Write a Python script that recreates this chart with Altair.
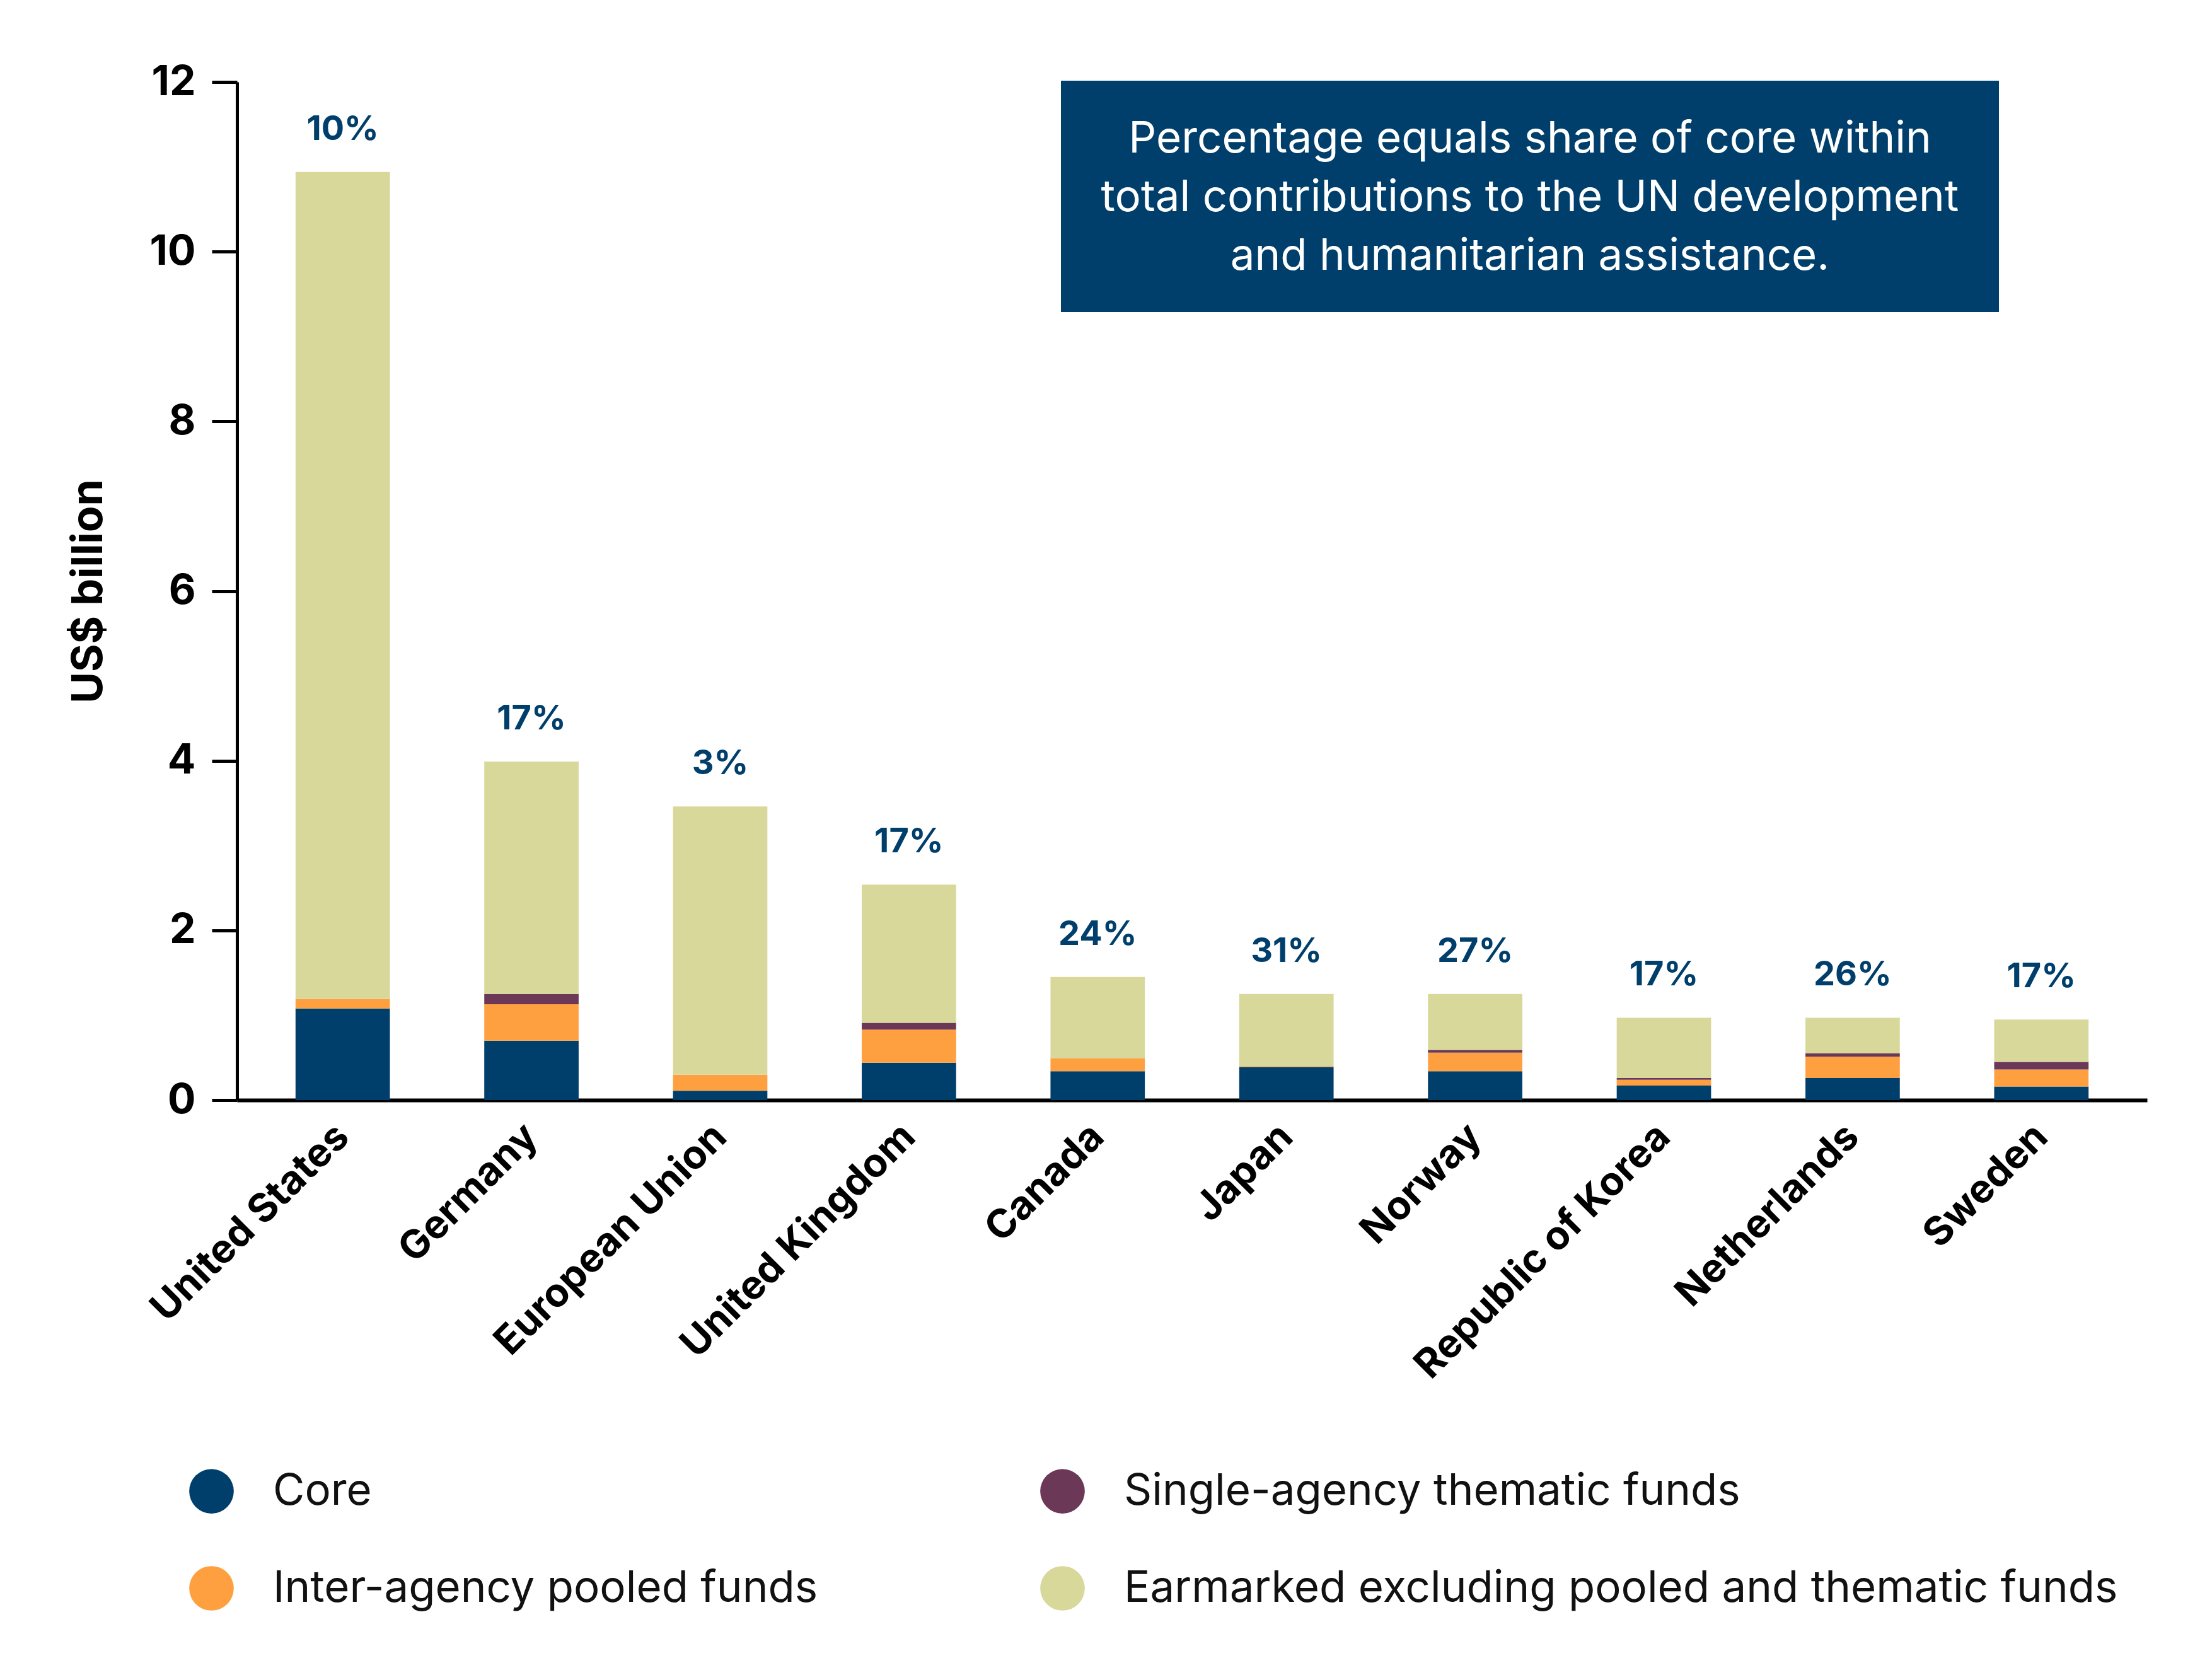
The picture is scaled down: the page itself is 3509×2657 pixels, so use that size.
import altair as alt
import pandas as pd

countries = ["United States", "Germany", "European Union", "United Kingdom", "Canada",
             "Japan", "Norway", "Republic of Korea", "Netherlands", "Sweden"]
core = [1.08, 0.70, 0.11, 0.44, 0.34, 0.39, 0.34, 0.17, 0.26, 0.16]
inter_agency = [0.11, 0.43, 0.19, 0.39, 0.15, 0.01, 0.22, 0.07, 0.25, 0.20]
single_agency = [0.00, 0.12, 0.00, 0.08, 0.00, 0.00, 0.03, 0.02, 0.04, 0.09]
earmarked = [9.75, 2.74, 3.16, 1.63, 0.96, 0.85, 0.66, 0.71, 0.42, 0.50]
totals = [10.94, 3.99, 3.46, 2.54, 1.45, 1.25, 1.25, 0.97, 0.97, 0.95]
core_share = ["10%", "17%", "3%", "17%", "24%", "31%", "27%", "17%", "26%", "17%"]

categories = ["Core", "Inter-agency pooled funds", "Single-agency thematic funds",
              "Earmarked excluding pooled and thematic funds"]
colors = ["#003F6B", "#FFA040", "#6B3858", "#D8D89B"]

series = [core, inter_agency, single_agency, earmarked]

rows = []
for rank, (cat, vals) in enumerate(zip(categories, series)):
    for c, v in zip(countries, vals):
        rows.append({"country": c, "type": cat, "value": v, "rank": rank})
df = pd.DataFrame(rows)

lab = pd.DataFrame({"country": countries, "total": totals, "share": core_share})

FONT = "Inter"

x_enc = alt.X("country:N", sort=countries, title=None,
              scale=alt.Scale(paddingInner=0.5, paddingOuter=0.31),
              axis=alt.Axis(labelAngle=-45, labelAlign="right", labelBaseline="middle",
                            labelFontSize=63, labelFont=FONT, labelFontWeight="bold",
                            labelColor="#000000", labelPadding=48, ticks=False,
                            domainColor="#000000", domainWidth=6, labelLimit=1000))

bars = alt.Chart(df).mark_bar(strokeWidth=0).encode(
    x=x_enc,
    y=alt.Y("value:Q", stack="zero",
            scale=alt.Scale(domain=[0, 12], nice=False),
            axis=alt.Axis(values=[0, 2, 4, 6, 8, 10, 12], format="d", grid=False,
                          title="US$ billion", titleFontSize=68, titleFont=FONT,
                          titleFontWeight="bold", titleColor="#000000", titlePadding=62,
                          labelFontSize=66, labelFont=FONT, labelFontWeight="bold",
                          labelColor="#000000", labelPadding=26, tickSize=40,
                          tickWidth=5, tickColor="#000000", domainColor="#000000",
                          domainWidth=5)),
    color=alt.Color("type:N", scale=alt.Scale(domain=categories, range=colors),
                    legend=alt.Legend(title=None, orient="none", legendX=-76, legendY=2200,
                                      columns=2, columnPadding=352, rowPadding=83,
                                      symbolType="circle", symbolSize=5000,
                                      symbolStrokeWidth=0, symbolOpacity=1,
                                      labelFontSize=69, labelFont=FONT,
                                      labelColor="#111111", labelOffset=62,
                                      labelLimit=3000, padding=0)),
    order=alt.Order("rank:Q", sort="ascending"),
)

pct = alt.Chart(lab).mark_text(baseline="bottom", dy=-40, fontSize=54, font=FONT,
                               fontWeight="bold", color="#003F6B").encode(
    x=alt.X("country:N", sort=countries),
    y=alt.Y("total:Q"),
    text="share:N",
)

note = pd.DataFrame({"t": [["Percentage equals share of core within",
                            "total contributions to the UN development",
                            "and humanitarian assistance."]]})

box = alt.Chart(note).mark_rect(color="#003F6B").encode(
    x=alt.value(1307), x2=alt.value(2795), y=alt.value(-2), y2=alt.value(365))

box_text = alt.Chart(note).mark_text(color="#FFFFFF", fontSize=69, font=FONT,
                                     lineHeight=93, align="center",
                                     baseline="middle").encode(
    x=alt.value(2051), y=alt.value(91), text="t")

chart = alt.layer(bars, pct, box, box_text).properties(
    width=3030, height=1615,
    background="#FFFFFF",
    autosize=alt.AutoSizeParams(type="none"),
    padding={"left": 368, "top": 122, "right": 90, "bottom": 890},
).configure_view(stroke=None)

chart.save("out.html", embed_options={"renderer": "svg", "actions": False})
